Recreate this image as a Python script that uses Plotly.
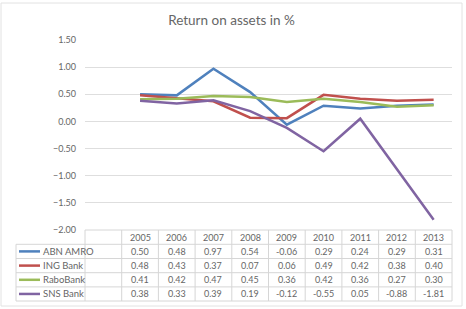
import plotly.graph_objects as go

years = ["2005", "2006", "2007", "2008", "2009", "2010", "2011", "2012", "2013"]
abn_amro = [0.50, 0.48, 0.97, 0.54, -0.06, 0.29, 0.24, 0.29, 0.31]
ing_bank = [0.48, 0.43, 0.37, 0.07, 0.06, 0.49, 0.42, 0.38, 0.40]
rabobank = [0.41, 0.42, 0.47, 0.45, 0.36, 0.42, 0.36, 0.27, 0.30]
sns_bank = [0.38, 0.33, 0.39, 0.19, -0.12, -0.55, 0.05, -0.88, -1.81]
series_names = ["ABN AMRO", "ING Bank", "RaboBank", "SNS Bank"]
series_values = [abn_amro, ing_bank, rabobank, sns_bank]
colors = ["#4F81BD", "#C0504D", "#9BBB59", "#8064A2"]

W, H = 466, 309
L, R, T, B = 85, 452, 40, 230
NCOL = len(years) + 1  # first (blank) category column

def fx(p):
    return (p - L) / (R - L)

def fy(p):
    return (B - p) / (B - T)

def col_edge(k):
    return L + k * (R - L) / NCOL

FONT = "Lato"
TXT = "#666666"
GRID = "#dedede"

fig = go.Figure()
xs = list(range(1, len(years) + 1))
for name, vals, c in zip(series_names, series_values, colors):
    fig.add_trace(go.Scatter(x=xs, y=vals, mode="lines", name=name,
                             line=dict(color=c, width=2.5), showlegend=False))

shapes = []
ann = []
# chart border
shapes.append(dict(type="rect", xref="paper", yref="paper",
                   x0=fx(1), x1=fx(462), y0=fy(306), y1=fy(3),
                   line=dict(color="#e2e2e2", width=1)))
# table geometry
row_tops = [230, 244.3, 258.5, 272.7, 286.9, 301]
line_style = dict(color="#d6d6d6", width=1)
shapes.append(dict(type="line", xref="paper", yref="paper", x0=fx(L), x1=fx(R),
                   y0=fy(row_tops[0]), y1=fy(row_tops[0]), line=line_style))
for yv in row_tops[1:]:
    shapes.append(dict(type="line", xref="paper", yref="paper", x0=fx(16), x1=fx(R),
                       y0=fy(yv), y1=fy(yv), line=line_style))
shapes.append(dict(type="line", xref="paper", yref="paper", x0=fx(16), x1=fx(16),
                   y0=fy(row_tops[1]), y1=fy(row_tops[-1]), line=line_style))
for k in range(NCOL + 1):
    xe = col_edge(k)
    shapes.append(dict(type="line", xref="paper", yref="paper", x0=fx(xe), x1=fx(xe),
                       y0=fy(row_tops[0]), y1=fy(row_tops[-1]), line=line_style))

hy = (row_tops[0] + row_tops[1]) / 2
for i, yr in enumerate(years):
    ann.append(dict(x=i + 1, xref="x", y=fy(hy), yref="paper", text=yr, showarrow=False,
                    font=dict(family=FONT, size=9, color=TXT), xanchor="center", yanchor="middle"))
for r, (name, vals, c) in enumerate(zip(series_names, series_values, colors)):
    cy = (row_tops[r + 1] + row_tops[r + 2]) / 2
    shapes.append(dict(type="line", xref="paper", yref="paper", x0=fx(19), x1=fx(40),
                       y0=fy(cy), y1=fy(cy), line=dict(color=c, width=2.5)))
    ann.append(dict(x=fx(40.5), xref="paper", y=fy(cy), yref="paper", text=name, showarrow=False,
                    font=dict(family=FONT, size=9.5, color=TXT), xanchor="left", yanchor="middle"))
    for i, v in enumerate(vals):
        ann.append(dict(x=i + 1, xref="x", y=fy(cy), yref="paper", text=f"{v:.2f}", showarrow=False,
                        font=dict(family=FONT, size=9, color=TXT), xanchor="center", yanchor="middle"))

fig.update_layout(
    width=W, height=H,
    margin=dict(l=L, r=W - R, t=T, b=H - B),
    paper_bgcolor="white", plot_bgcolor="white",
    title=dict(text="Return on assets in %", x=(1 + 462) / 2 / W, xanchor="center",
               y=1 - 20 / H, yanchor="middle",
               font=dict(family=FONT, size=13.5, color=TXT)),
    xaxis=dict(range=[-0.5, NCOL - 0.5], showticklabels=False, showgrid=False,
               zeroline=False, showline=False, fixedrange=True),
    yaxis=dict(range=[-2, 1.5], dtick=0.5, tick0=0, tickformat=".2f",
               showgrid=True, gridcolor=GRID, gridwidth=1, zeroline=False,
               showline=False, ticklabelstandoff=8,
               tickfont=dict(family=FONT, size=9, color=TXT)),
    shapes=shapes, annotations=ann, showlegend=False,
)
fig.write_html("out.html")
